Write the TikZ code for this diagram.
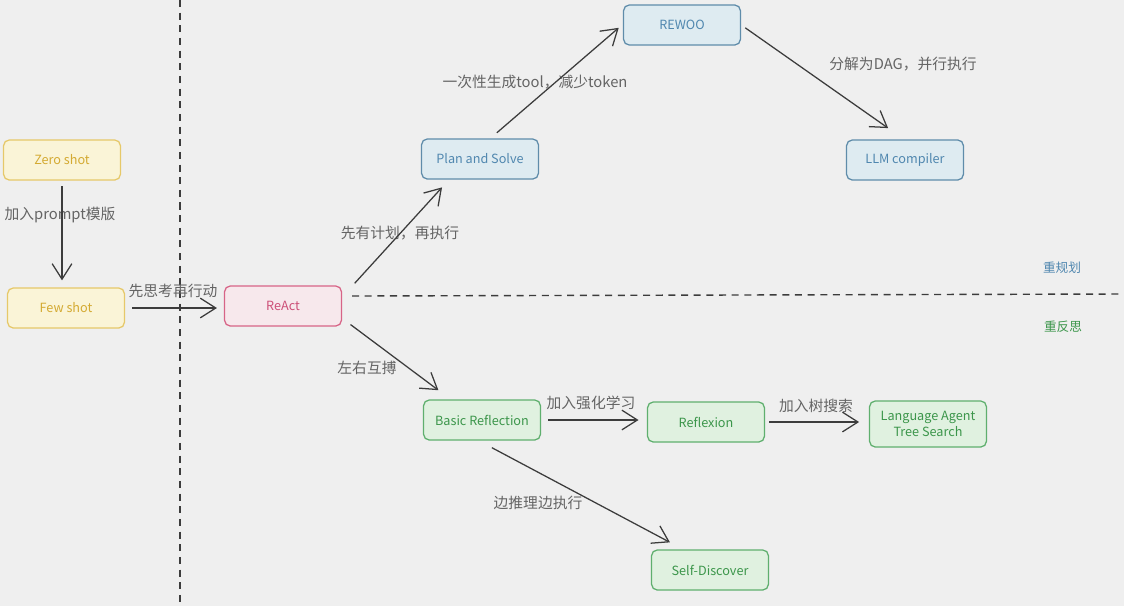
\documentclass[tikz,border=0pt]{standalone}
\usepackage{fontspec}
\setmainfont{Noto Sans CJK SC}
\usetikzlibrary{arrows.meta}

\definecolor{bgcol}{RGB}{239,239,239}
\definecolor{linecol}{RGB}{60,60,60}
\definecolor{labcol}{RGB}{100,100,100}
\definecolor{yelDraw}{RGB}{230,200,105}
\definecolor{yelFill}{RGB}{250,244,215}
\definecolor{yelText}{RGB}{212,170,50}
\definecolor{redDraw}{RGB}{215,100,135}
\definecolor{redFill}{RGB}{247,232,236}
\definecolor{redText}{RGB}{205,80,120}
\definecolor{bluDraw}{RGB}{95,140,170}
\definecolor{bluFill}{RGB}{222,235,241}
\definecolor{bluText}{RGB}{80,135,175}
\definecolor{grnDraw}{RGB}{95,175,110}
\definecolor{grnFill}{RGB}{224,241,224}
\definecolor{grnText}{RGB}{60,150,75}

\begin{document}
\begin{tikzpicture}[x=0.025cm,y=-0.025cm,
    box/.style={rounded corners=4pt, line width=0.9pt, minimum width=2.92cm,
      minimum height=1cm, align=center, font=\fontsize{9}{11}\selectfont},
    yelbox/.style={box, draw=yelDraw, fill=yelFill, text=yelText},
    redbox/.style={box, draw=redDraw, fill=redFill, text=redText},
    blubox/.style={box, draw=bluDraw, fill=bluFill, text=bluText},
    grnbox/.style={box, draw=grnDraw, fill=grnFill, text=grnText},
    lab/.style={text=labcol, font=\fontsize{10.5}{12}\selectfont},
    arr/.style={draw=linecol, line width=0.9pt,
      -{Straight Barb[length=11pt,width=14pt,line width=0.9pt]}},
    sep/.style={draw=linecol, line width=1pt, dash pattern=on 5pt off 4pt}]

  \fill[bgcol] (0,0) rectangle (1124,606);
  \useasboundingbox (0,0) rectangle (1124,606);

  \draw[sep] (180,0) -- (180,606);
  \draw[sep] (352,296) -- (1124,294);

  \node[yelbox] (zero) at (62,160) {Zero shot};
  \node[yelbox] (few) at (66,308) {Few shot};
  \node[redbox] (react) at (283,306) {ReAct};
  \node[blubox] (plan) at (480,159) {Plan and Solve};
  \node[blubox] (rewoo) at (682,25) {REWOO};
  \node[blubox] (llm) at (905,160) {LLM compiler};
  \node[grnbox] (basic) at (482,420) {Basic Reflection};
  \node[grnbox] (reflexion) at (706,422) {Reflexion};
  \node[grnbox, minimum height=1.15cm] (lats) at (928,424) {Language Agent\\Tree Search};
  \node[grnbox] (self) at (710,570) {Self-Discover};

  \node[lab] (l1) at (60,215) {加入prompt模版};
  \node[lab] (l2) at (173,291) {先思考再行动};
  \node[lab] (l3) at (400,233) {先有计划，再执行};
  \node[lab] (l4) at (535,82) {一次性生成tool，减少token};
  \node[lab] (l5) at (903,64) {分解为DAG，并行执行};
  \node[lab] (l6) at (367,368) {左右互搏};
  \node[lab] (l7) at (591,403) {加入强化学习};
  \node[lab] (l8) at (816,406) {加入树搜索};
  \node[lab] (l9) at (538,503) {边推理边执行};
  \node[text=bluText, font=\fontsize{9}{11}\selectfont] (plantag) at (1062,268) {重规划};
  \node[text=grnText, font=\fontsize{9}{11}\selectfont] (reflecttag) at (1063,327) {重反思};

  \draw[arr, shorten <=4pt, shorten >=5pt] (zero.south) -- (zero.south |- few.north);
  \draw[arr, shorten <=5pt, shorten >=5pt] (few.east) -- (few.east -| react.west);
  \draw[arr] ([xshift=9pt,yshift=1.5pt]react.north east) -- ([xshift=15pt,yshift=-5.5pt]plan.south west);
  \draw[arr] ([xshift=12pt,yshift=4pt]plan.north) -- ([xshift=-3pt,yshift=-2pt]rewoo.west);
  \draw[arr] ([xshift=3pt,yshift=-2pt]rewoo.east) -- ([xshift=-12pt,yshift=8pt]llm.north);
  \draw[arr] ([xshift=6pt,yshift=1.5pt]react.south east) -- ([xshift=11pt,yshift=6.5pt]basic.north west);
  \draw[arr, shorten <=5pt, shorten >=6pt] (basic.east) -- (basic.east -| reflexion.west);
  \draw[arr, shorten <=3pt, shorten >=7pt] (reflexion.east) -- (reflexion.east -| lats.west);
  \draw[arr] ([xshift=7pt,yshift=-5pt]basic.south) -- ([xshift=13.5pt,yshift=5pt]self.north west);

\end{tikzpicture}
\end{document}
